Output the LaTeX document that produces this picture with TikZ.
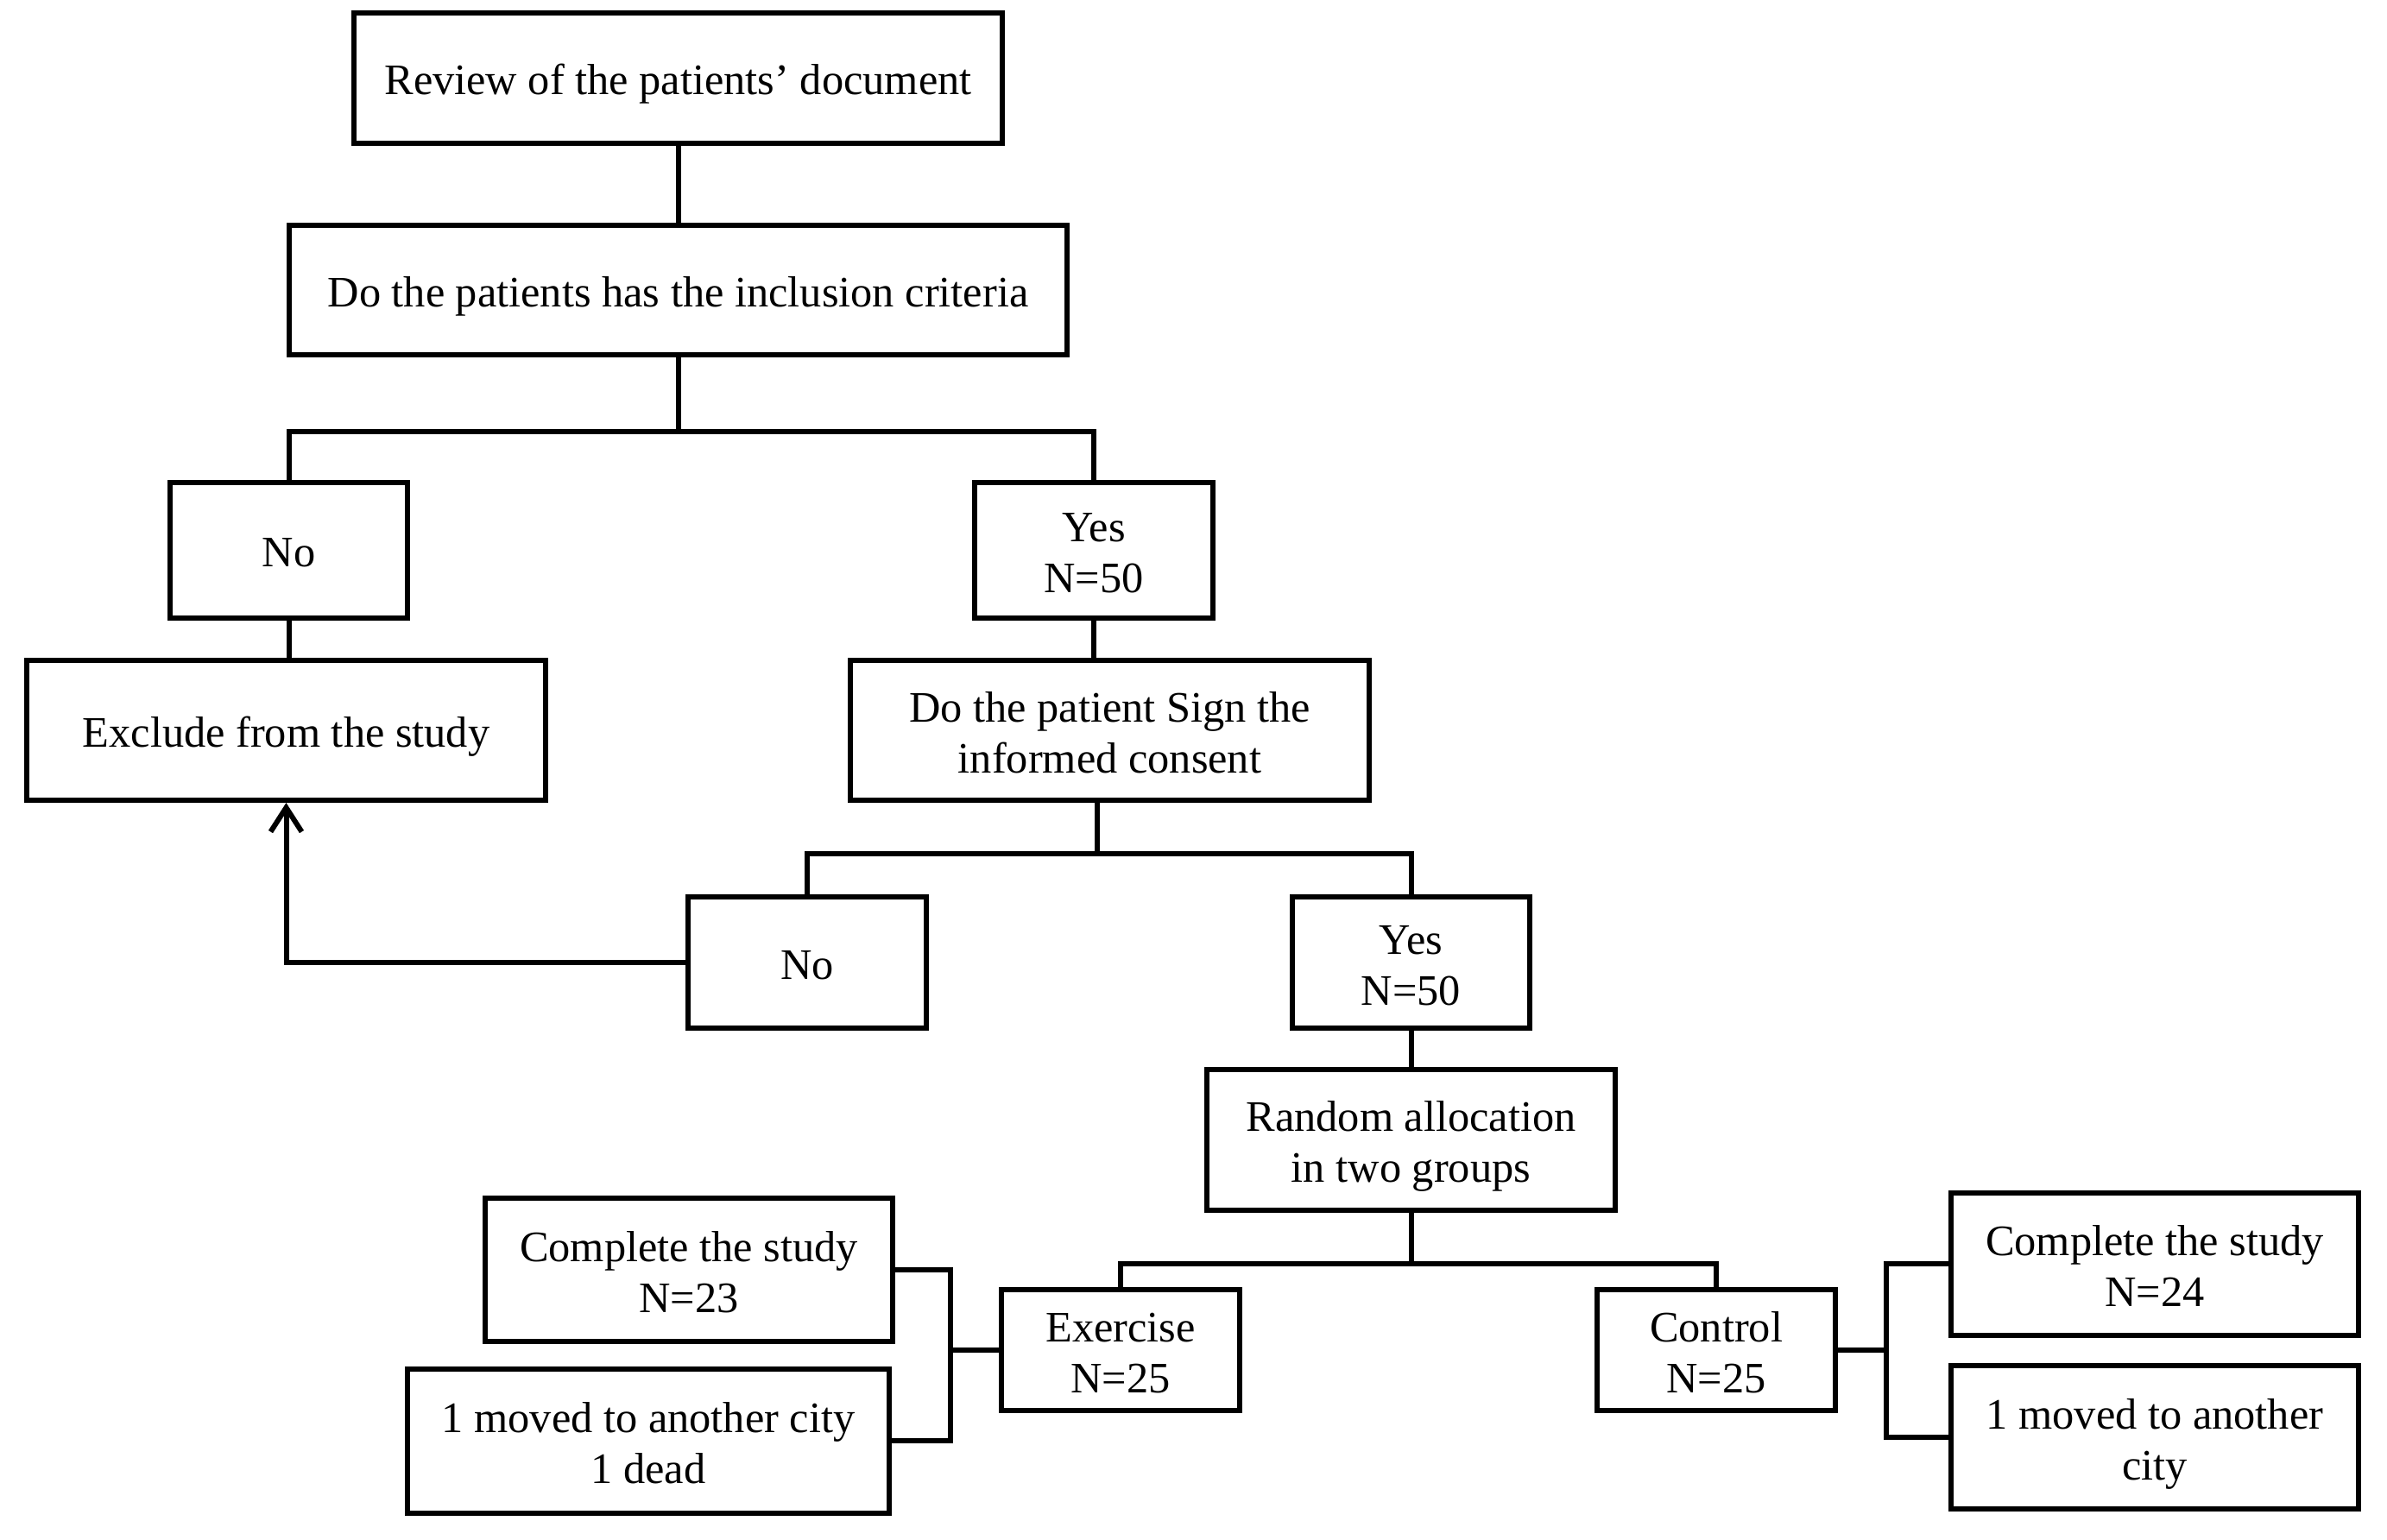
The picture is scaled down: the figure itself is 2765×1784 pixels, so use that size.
\documentclass[tikz,border=0pt]{standalone}
\usepackage{fontspec}
\setmainfont{Liberation Serif}
\usetikzlibrary{arrows.meta}
\begin{document}
\begin{tikzpicture}[x=0.25pt,y=-0.25pt, line width=1.5pt,
  box/.style={draw, line width=1.5pt, inner sep=0pt, align=center,
    text height=9.6pt, text depth=0pt,
    font=\fontsize{12.6pt}{14.75pt}\selectfont},
  twoline/.style={text height=24.6pt},
  wh/.style 2 args={minimum width=#1*0.25pt, minimum height=#2*0.25pt},
  conn/.style={draw, line width=1.5pt}]
\useasboundingbox (0,0) rectangle (2765,1784);
\fill[white] (0,0) rectangle (2765,1784);

\node[box, wh={751}{151}] (r)    at (785.5,90.5)   {Review of the patients’ document};
\node[box, wh={901}{150}] (inc)  at (785.5,336)    {Do the patients has the inclusion criteria};
\node[box, wh={275}{157}] (no1)  at (334.5,637.5)  {No};
\node[box, twoline, wh={276}{157}] (yes1) at (1267,637.5)   {Yes\\N=50};
\node[box, wh={601}{162}] (exc)  at (331.5,846)    {Exclude from the study};
\node[box, twoline, wh={601}{162}] (cons) at (1285.5,846)   {Do the patient Sign the\\informed consent};
\node[box, wh={276}{152}] (no2)  at (935,1115)     {No};
\node[box, twoline, wh={275}{152}] (yes2) at (1634.5,1115)  {Yes\\N=50};
\node[box, twoline, wh={473}{163}] (rand) at (1634.5,1320.5){Random allocation\\in two groups};
\node[box, twoline, wh={276}{140}] (ex)   at (1298,1564)    {Exercise\\N=25};
\node[box, twoline, wh={276}{140}] (ct)   at (1988,1564)    {Control\\N=25};
\node[box, twoline, wh={472}{166}] (c23)  at (798,1471)     {Complete the study\\N=23};
\node[box, twoline, wh={558}{167}] (m23)  at (751,1669.5)   {1 moved to another city\\1 dead};
\node[box, twoline, wh={472}{165}] (c24)  at (2496,1464.5)  {Complete the study\\N=24};
\node[box, twoline, wh={472}{166}] (m24)  at (2496,1665)    {1 moved to another\\city};

\coordinate (j1) at (785.5,500);
\coordinate (j2) at (1271,989);
\coordinate (j3) at (1634.5,1464);
\coordinate (b1) at (1101,1564);
\coordinate (b2) at (2185,1564);

\draw[conn] (r) -- (inc);
\draw[conn] (inc.south) -- (j1);
\draw[conn] (no1.north) |- (j1) -| (yes1.north);
\draw[conn] (no1.south) -- (no1.south |- exc.north);
\draw[conn] (yes1.south) -- (yes1.south |- cons.north);
\draw[conn] (j2 |- cons.south) -- (j2);
\draw[conn] (no2.north) |- (j2) -| (yes2.north);
\draw[conn, -{Straight Barb[length=7pt,width=9pt]}] (no2.west) -| (exc.south);
\draw[conn] (yes2) -- (rand);
\draw[conn] (rand.south) -- (j3);
\draw[conn] (ex.north) |- (j3) -| (ct.north);
\draw[conn] (c23.east) -| (b1) |- (m23.east);
\draw[conn] (ex.west) -- (b1);
\draw[conn] (ct.east) -- (b2);
\draw[conn] (c24.west) -| (b2) |- (m24.west);
\end{tikzpicture}
\end{document}
